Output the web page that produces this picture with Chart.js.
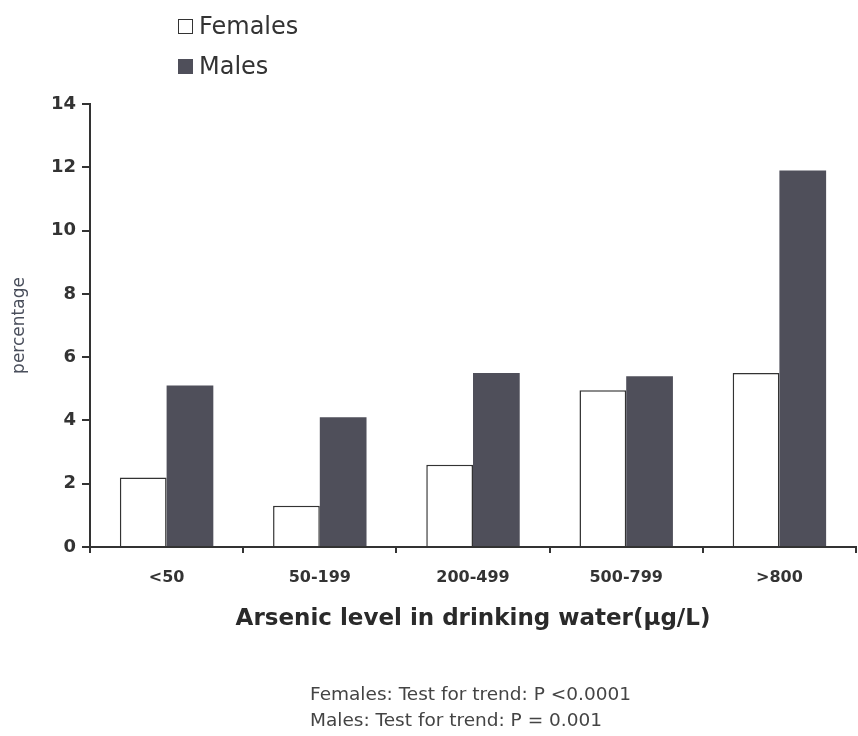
<!DOCTYPE html>
<html>
<head>
<meta charset="utf-8">
<script src="https://cdn.jsdelivr.net/npm/chart.js@4"></script>
<style>
  body { margin: 0; background: #fff; font-family: "DejaVu Sans", sans-serif; }
  #wrap { position: relative; width: 858px; height: 736px; }
  #legend { position: absolute; left: 178px; top: 9px; color: #333; font-size: 24px; }
  .item { height: 40px; line-height: 34px; }
  .box { display: inline-block; width: 15px; height: 15px; margin-right: 6px; box-sizing: border-box; }
  #note { position: absolute; left: 310px; top: 681px; color: #444; font-size: 18.5px; line-height: 26px; }
</style>
</head>
<body>
<div id="wrap">
  <canvas id="myChart" width="858" height="736"></canvas>
  <div id="legend"></div>
  <div id="note"></div>
</div>
<script>
var categories = ["<50", "50-199", "200-499", "500-799", ">800"];
var females    = [2.2, 1.3, 2.6, 4.95, 5.5];
var males      = [5.1, 4.1, 5.5, 5.4, 11.9];
var seriesNames = ["Females", "Males"];
var notes = ["Females: Test for trend: P <0.0001", "Males: Test for trend: P = 0.001"];

var maleColor = "#4f4f5a";

// legend, stacked like in the paper
var legendHtml = "";
legendHtml += '<div class="item"><span class="box" style="border:1.5px solid #333;background:#fff"></span>' + seriesNames[0] + '</div>';
legendHtml += '<div class="item"><span class="box" style="background:' + maleColor + '"></span>' + seriesNames[1] + '</div>';
document.getElementById("legend").innerHTML = legendHtml;
document.getElementById("note").innerHTML = notes.join("<br>");

var ctx = document.getElementById("myChart").getContext("2d");

var myChart = new Chart(ctx, {
  type: "bar",
  data: {
    labels: categories,
    datasets: [
      {
        label: seriesNames[0],
        data: females,
        backgroundColor: "#ffffff",
        borderColor: "#333333",
        borderWidth: 1.5,
        borderSkipped: "bottom",
        categoryPercentage: 0.61,
        barPercentage: 1.0
      },
      {
        label: seriesNames[1],
        data: males,
        backgroundColor: maleColor,
        borderColor: maleColor,
        borderWidth: 0,
        categoryPercentage: 0.61,
        barPercentage: 1.0
      }
    ]
  },
  options: {
    responsive: false,
    animation: false,
    layout: { padding: { top: 104, right: 2, bottom: 94, left: 0 } },
    plugins: {
      legend: { display: false },
      tooltip: { enabled: false }
    },
    scales: {
      x: {
        grid: { display: true, drawOnChartArea: false, tickLength: 6, color: "#333", lineWidth: 2 },
        border: { color: "#333", width: 2 },
        ticks: { color: "#333", padding: 15, font: { family: "DejaVu Sans", size: 16, weight: "bold" } },
        title: {
          display: true,
          text: "Arsenic level in drinking water(\u00b5g/L)",
          color: "#2a2a2a",
          padding: { top: 0, bottom: 9 },
          font: { family: "DejaVu Sans", size: 23, weight: "bold" }
        },
        afterFit: function(scale) { scale.height = 95; }
      },
      y: {
        min: 0,
        max: 14,
        ticks: { stepSize: 2, color: "#333", padding: 6, font: { family: "DejaVu Sans", size: 18, weight: "bold" } },
        grid: { display: true, drawOnChartArea: false, tickLength: 8, color: "#333", lineWidth: 2 },
        border: { color: "#333", width: 2 },
        title: {
          display: true,
          text: "percentage",
          color: "#4a4f5c",
          padding: { top: 9, bottom: 0 },
          font: { family: "DejaVu Sans", size: 17 }
        },
        afterFit: function(scale) { scale.width = 90; }
      }
    }
  }
});
</script>
</body>
</html>
